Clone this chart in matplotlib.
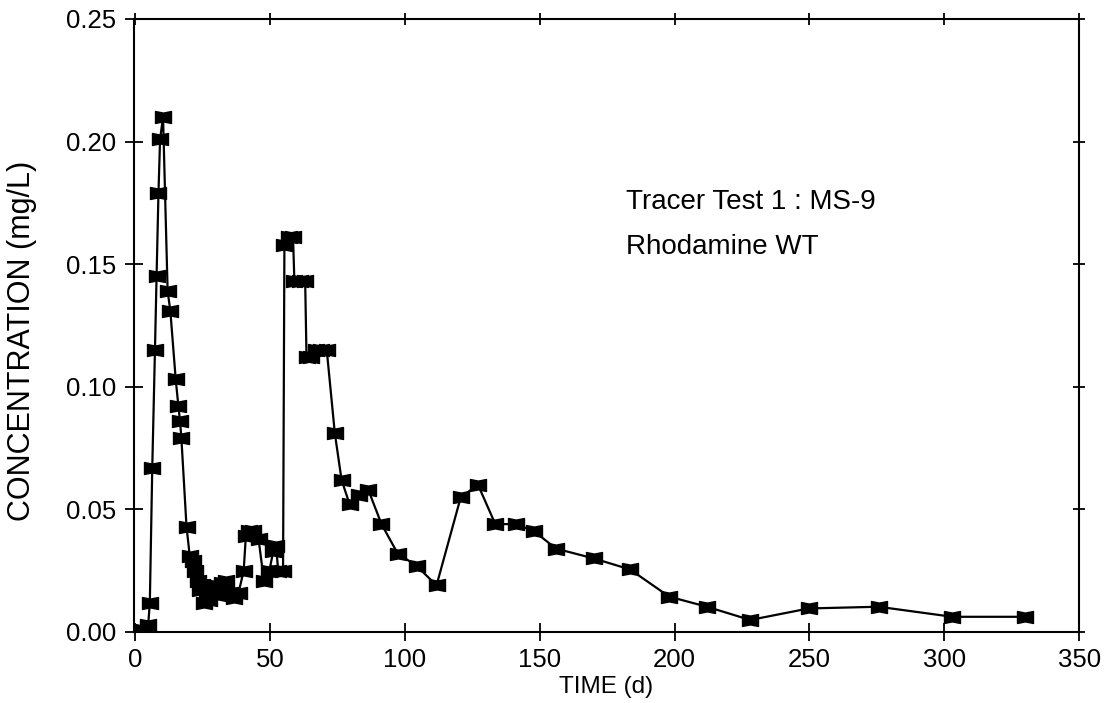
import numpy as np
import matplotlib
matplotlib.use("Agg")
import matplotlib.pyplot as plt
from matplotlib.path import Path

plt.rcParams['font.family'] = ['Liberation Sans', 'DejaVu Sans']

# tracer breakthrough data
time_d = [0.0, 1.5, 3.0, 4.8, 5.4, 6.3, 7.3, 7.9, 8.6, 9.2, 10.3,
          12.0, 13.0, 15.0, 16.0, 16.6, 17.1, 19.0,
          20.2, 21.3, 22.3, 23.2, 24.0, 24.8, 25.5, 26.5, 27.5, 28.8, 30.5,
          32.0, 33.5, 35.0, 36.5, 38.3, 40.2, 41.0, 42.2, 43.5, 45.7, 47.7,
          49.7, 51.2, 52.2, 53.0, 54.8,
          55.3, 57.0, 58.5, 59.0, 61.0, 63.0, 63.5, 65.0, 67.0, 69.0, 71.0,
          74.0, 76.5, 79.5, 83.0, 86.4, 91.3, 97.3, 104.3, 111.7,
          120.7, 127.1, 133.5, 141.3, 148.0, 156.0, 170.0, 183.5, 198.0,
          212.0, 228.0, 249.7, 275.6, 303.0, 330.0]
conc_mgL = [0.000, 0.000, 0.001, 0.003, 0.012, 0.067, 0.115, 0.145, 0.179, 0.201, 0.210,
            0.139, 0.131, 0.103, 0.092, 0.086, 0.079, 0.043,
            0.031, 0.029, 0.025, 0.021, 0.017, 0.019, 0.012, 0.015, 0.013, 0.019, 0.015,
            0.020, 0.021, 0.016, 0.014, 0.016, 0.025, 0.039, 0.041, 0.041, 0.038, 0.021,
            0.025, 0.033, 0.035, 0.025, 0.025,
            0.158, 0.161, 0.161, 0.143, 0.143, 0.143, 0.112, 0.112, 0.115, 0.115, 0.115,
            0.081, 0.062, 0.052, 0.056, 0.058, 0.044, 0.032, 0.027, 0.019,
            0.055, 0.060, 0.044, 0.044, 0.041, 0.034, 0.030, 0.0255, 0.0144,
            0.0103, 0.0049, 0.0096, 0.0103, 0.0062, 0.0062]

x_ticks = [0, 50, 100, 150, 200, 250, 300, 350]
y_ticks = [0.00, 0.05, 0.10, 0.15, 0.20, 0.25]

# notched square marker like the original plotting package
bowtie = Path([(-1, -0.75), (0, -0.55), (1, -0.75), (1, 0.75), (0, 0.55), (-1, 0.75), (-1, -0.75)],
              [Path.MOVETO] + [Path.LINETO] * 5 + [Path.CLOSEPOLY])

fig = plt.figure(figsize=(11.16, 7.03), dpi=100)
ax = fig.add_axes([0.120, 0.101, 0.847, 0.872])

ax.plot(time_d, conc_mgL, color='black', linewidth=1.6,
        marker=bowtie, markersize=11.5, markerfacecolor='black', markeredgecolor='black')

ax.set_xlim(-0.5, 350)
ax.set_ylim(0, 0.25)
ax.set_xticks(x_ticks)
ax.set_yticks(y_ticks)
ax.set_yticklabels([f"{v:.2f}" for v in y_ticks])

ax.tick_params(axis='both', which='major', labelsize=18.5, direction='inout', length=13, width=1.3)
ax.tick_params(axis='x', pad=5)
ax.tick_params(axis='y', pad=6)
ax.tick_params(top=True, right=True)
for t in ax.xaxis.get_major_ticks():
    t.tick2line.set_markersize(8)
for t in ax.yaxis.get_major_ticks():
    t.tick2line.set_markersize(8)
for s in ax.spines.values():
    s.set_linewidth(1.5)

ax.set_xlabel('TIME (d)', fontsize=17.5, labelpad=3)
ax.set_ylabel('CONCENTRATION (mg/L)', fontsize=22)
ax.yaxis.set_label_coords(-0.103, 0.475)

ax.text(182, 0.1755, 'Tracer Test 1 : MS-9', fontsize=20, va='center', ha='left')
ax.text(182, 0.157, 'Rhodamine WT', fontsize=20, va='center', ha='left')

plt.savefig('out.png', dpi=100)
